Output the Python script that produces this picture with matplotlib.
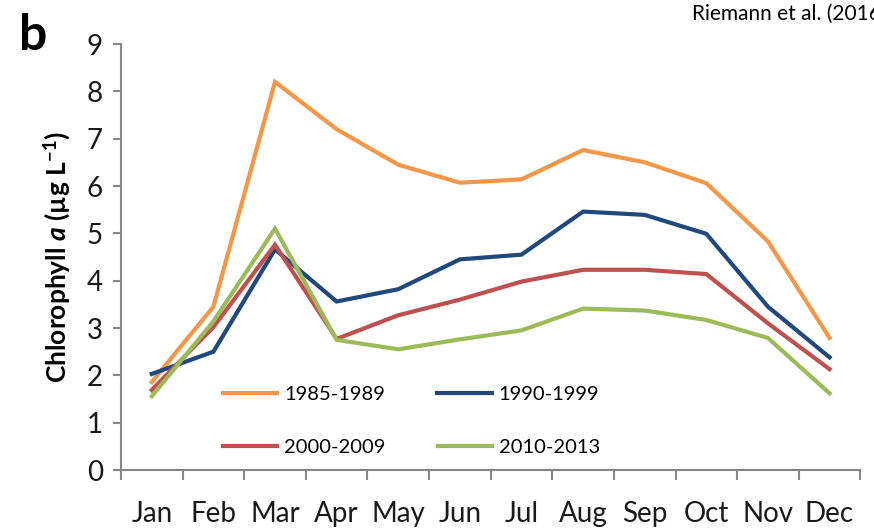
import matplotlib
matplotlib.use("Agg")
import matplotlib.pyplot as plt
from matplotlib.ticker import FixedLocator, MultipleLocator

plt.rcParams['font.family'] = ['Lato', 'DejaVu Sans']
plt.rcParams['mathtext.fontset'] = 'custom'
plt.rcParams['mathtext.rm'] = 'Lato'
plt.rcParams['mathtext.it'] = 'Lato:italic'
plt.rcParams['mathtext.bf'] = 'Lato:bold'
plt.rcParams['mathtext.bfit'] = 'Lato:bold:italic'

# monthly mean chlorophyll a per period
months = ["Jan", "Feb", "Mar", "Apr", "May", "Jun", "Jul", "Aug", "Sep", "Oct", "Nov", "Dec"]
chl_1985_1989 = [1.86, 3.45, 8.2, 7.2, 6.45, 6.07, 6.14, 6.76, 6.5, 6.06, 4.83, 2.79]
chl_1990_1999 = [2.03, 2.5, 4.66, 3.56, 3.82, 4.45, 4.55, 5.46, 5.39, 4.99, 3.45, 2.38]
chl_2000_2009 = [1.69, 3.02, 4.76, 2.77, 3.27, 3.6, 3.98, 4.23, 4.23, 4.14, 3.1, 2.13]
chl_2010_2013 = [1.56, 3.14, 5.1, 2.75, 2.55, 2.76, 2.95, 3.41, 3.37, 3.17, 2.79, 1.62]

series = [
    ("1985-1989", chl_1985_1989, "#F79646"),
    ("1990-1999", chl_1990_1999, "#1F497D"),
    ("2000-2009", chl_2000_2009, "#C0504D"),
    ("2010-2013", chl_2010_2013, "#9BBB59"),
]

fig = plt.figure(figsize=(8.74, 5.29), dpi=100)
ax = fig.add_axes([0.1384, 0.1115, 0.846, 0.8053])

x = list(range(len(months)))
handles = []
for label, vals, col in series:
    h, = ax.plot(x, vals, color=col, lw=3.0, solid_joinstyle='miter', label=label)
    handles.append(h)

ax.set_xlim(-0.5, 11.5)
ax.set_ylim(0, 9)

for s in ["top", "right"]:
    ax.spines[s].set_visible(False)
for s in ["left", "bottom"]:
    ax.spines[s].set_color("#868686")
    ax.spines[s].set_linewidth(1.5)

ax.yaxis.set_major_locator(MultipleLocator(1))
ax.tick_params(axis='y', direction='out', length=6, width=1.5, color="#868686",
               labelsize=20, pad=7, labelcolor="#1a1a1a")
ax.set_xticks(x)
ax.set_xticklabels(months)
ax.xaxis.set_minor_locator(FixedLocator([i - 0.5 for i in range(len(months) + 1)]))
ax.tick_params(axis='x', which='major', length=0, labelsize=20, pad=22, labelcolor="#1a1a1a")
ax.tick_params(axis='x', which='minor', direction='out', length=7, width=1.5, color="#868686")

ax.set_ylabel(r"Chlorophyll $\mathbfit{a}$ (µg L$^{\mathbf{-1}}$)", fontsize=19,
              fontweight='bold', labelpad=10)

# legend as two rows inside the plot
leg_kw = dict(loc='lower left', ncol=2, frameon=False, fontsize=14.5,
              handlelength=2.7, columnspacing=2.6, handletextpad=0.35)
leg1 = ax.legend(handles=[handles[0], handles[1]], bbox_to_anchor=(0.113, 0.115), **leg_kw)
ax.add_artist(leg1)
ax.legend(handles=[handles[2], handles[3]], bbox_to_anchor=(0.113, -0.01), **leg_kw)

fig.text(0.022, 0.905, "b", fontsize=36, fontweight='bold')
fig.text(0.792, 0.962, "Riemann et al. (2016)", fontsize=15)

fig.savefig("out.png", dpi=100)
